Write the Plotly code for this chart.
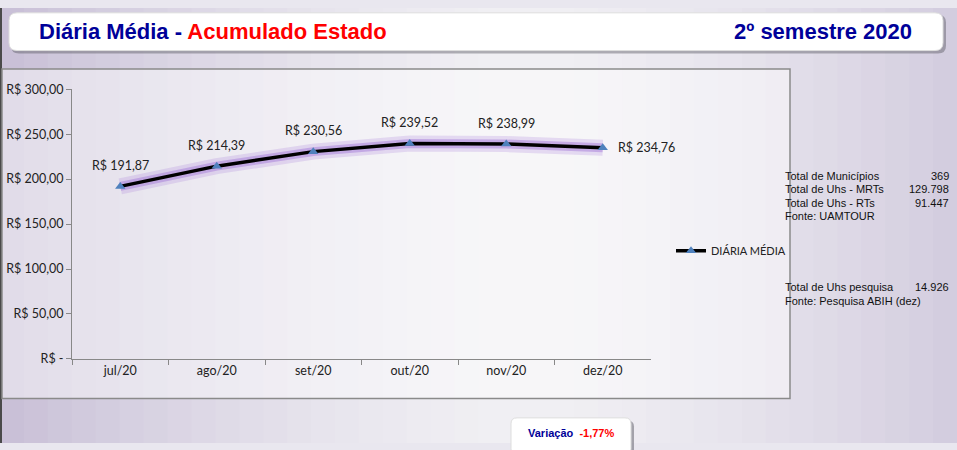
import plotly.graph_objects as go

# ---- data ----
months = ["jul/20", "ago/20", "set/20", "out/20", "nov/20", "dez/20"]
diaria_media = [191.87, 214.39, 230.56, 239.52, 238.99, 234.76]
value_labels = ["R$ 191,87", "R$ 214,39", "R$ 230,56", "R$ 239,52", "R$ 238,99", "R$ 234,76"]
y_tick_values = [0, 50, 100, 150, 200, 250, 300]
y_tick_labels = ["R$ -", "R$ 50,00", "R$ 100,00", "R$ 150,00", "R$ 200,00", "R$ 250,00", "R$ 300,00"]
series_name = "DIÁRIA MÉDIA"
info_top = [("Total de Municípios", "369"), ("Total de Uhs - MRTs", "129.798"),
            ("Total de Uhs - RTs", "91.447"), ("Fonte: UAMTOUR", "")]
info_bottom = [("Total de Uhs pesquisa", "14.926"), ("Fonte: Pesquisa ABIH (dez)", "")]
variacao = "-1,77%"

W, H = 957, 450
def px(x): return x / W
def py(y): return 1 - y / H

LFONT = "Lato, Carlito, sans-serif"

fig = go.Figure()

# glow
fig.add_trace(go.Scatter(x=months, y=diaria_media, mode="lines",
                         line=dict(color="rgba(170,130,220,0.25)", width=16),
                         hoverinfo="skip", showlegend=False))
fig.add_trace(go.Scatter(x=months, y=diaria_media, mode="lines",
                         line=dict(color="rgba(160,115,215,0.45)", width=9),
                         hoverinfo="skip", showlegend=False))
# main series
fig.add_trace(go.Scatter(x=months, y=diaria_media, mode="lines+markers",
                         name=series_name,
                         line=dict(color="black", width=3.5),
                         marker=dict(symbol="triangle-up", size=9, color="#4f81bd"),
                         cliponaxis=False))

shapes = []
# background gradient (horizontal)
n = 40
for i in range(n):
    x0 = i / n
    x1 = (i + 1) / n
    c = (x0 + x1) / 2
    d = abs(c - 0.55) / 0.55
    t = min(1, d) ** 1.5
    r = int(241 + (200 - 241) * t)
    g = int(240 + (192 - 241) * t)
    b = int(244 + (215 - 244) * t)
    shapes.append(dict(type="rect", xref="paper", yref="paper", x0=x0, x1=x1 + 0.002, y0=0, y1=1,
                       fillcolor=f"rgb({r},{g},{b})", line=dict(width=0), layer="below"))
# left dark edge
shapes.append(dict(type="rect", xref="paper", yref="paper", x0=0, x1=px(2), y0=0, y1=1,
                   fillcolor="#4a4a4a", line=dict(width=0), layer="below"))
# chart box
shapes.append(dict(type="rect", xref="paper", yref="paper", x0=px(2), x1=px(790), y0=py(404), y1=py(63),
                   fillcolor="rgba(255,255,255,0.45)", line=dict(color="#8a8a8a", width=1.5), layer="below"))

def rrect(x0, y0, x1, y1, r):
    X0, X1 = px(x0), px(x1)
    Y0, Y1 = py(y1), py(y0)
    rx, ry = r / W, r / H
    return (f"M {X0+rx},{Y0} L {X1-rx},{Y0} Q {X1},{Y0} {X1},{Y0+ry} L {X1},{Y1-ry} "
            f"Q {X1},{Y1} {X1-rx},{Y1} L {X0+rx},{Y1} Q {X0},{Y1} {X0},{Y1-ry} "
            f"L {X0},{Y0+ry} Q {X0},{Y0} {X0+rx},{Y0} Z")

# title box shadow + box
shapes.append(dict(type="path", xref="paper", yref="paper", path=rrect(11, 7, 946, 47, 8),
                   fillcolor="rgba(90,90,100,0.45)", line=dict(width=0), layer="below"))
shapes.append(dict(type="path", xref="paper", yref="paper", path=rrect(9, 5, 943, 44, 8),
                   fillcolor="white", line=dict(color="#dddddd", width=1), layer="below"))
# variacao box
shapes.append(dict(type="path", xref="paper", yref="paper", path=rrect(514, 427, 634, 462, 6),
                   fillcolor="rgba(90,90,100,0.5)", line=dict(width=0), layer="below"))
shapes.append(dict(type="path", xref="paper", yref="paper", path=rrect(511, 424, 631, 462, 6),
                   fillcolor="white", line=dict(color="#dddddd", width=1), layer="below"))

annotations = []
# data labels
for i, (m, v, lab) in enumerate(zip(months, diaria_media, value_labels)):
    if i == len(months) - 1:
        annotations.append(dict(x=m, y=v, xref="x", yref="y", text=lab, showarrow=False,
                                xanchor="left", yanchor="middle", xshift=13,
                                font=dict(family=LFONT, size=12.5, color="#222")))
    else:
        annotations.append(dict(x=m, y=v, xref="x", yref="y", text=lab, showarrow=False,
                                xanchor="center", yanchor="middle", yshift=21,
                                font=dict(family=LFONT, size=12.5, color="#222")))

tfont = "Liberation Sans Narrow, Arial Narrow, Liberation Sans, Arial, sans-serif"
annotations.append(dict(xref="paper", yref="paper", x=px(37), y=py(24), xanchor="left", yanchor="middle",
                        showarrow=False,
                        text="<b><span style='color:#000099'>Diária Média - </span><span style='color:#ff0000'>Acumulado Estado</span></b>",
                        font=dict(family=tfont, size=22)))
annotations.append(dict(xref="paper", yref="paper", x=px(914), y=py(24), xanchor="right", yanchor="middle",
                        showarrow=False, text="<b>2º semestre 2020</b>",
                        font=dict(family=tfont, size=22, color="#000099")))
ifont = dict(family="Liberation Sans, Arial, sans-serif", size=11, color="#111")
for i, (lab, val) in enumerate(info_top):
    y = 174 + i * 13.7
    annotations.append(dict(xref="paper", yref="paper", x=px(783), y=py(y), xanchor="left", yanchor="middle",
                            showarrow=False, text=lab, font=ifont))
    if val:
        annotations.append(dict(xref="paper", yref="paper", x=px(951), y=py(y), xanchor="right", yanchor="middle",
                                showarrow=False, text=val, font=ifont))
for i, (lab, val) in enumerate(info_bottom):
    y = 289 + i * 13.7
    annotations.append(dict(xref="paper", yref="paper", x=px(783), y=py(y), xanchor="left", yanchor="middle",
                            showarrow=False, text=lab, font=ifont))
    if val:
        annotations.append(dict(xref="paper", yref="paper", x=px(951), y=py(y), xanchor="right", yanchor="middle",
                                showarrow=False, text=val, font=ifont))
annotations.append(dict(xref="paper", yref="paper", x=px(571), y=py(440), xanchor="center", yanchor="middle",
                        showarrow=False,
                        text=f"<b><span style='color:#000099'>Variação</span>  <span style='color:#ff0000'>{variacao}</span></b>",
                        font=dict(family="Liberation Sans, Arial, sans-serif", size=11)))

axfont = dict(family=LFONT, size=12.5, color="#222")
fig.update_layout(
    width=W, height=H, margin=dict(l=0, r=0, t=0, b=0),
    paper_bgcolor="#e9e7ef", plot_bgcolor="rgba(0,0,0,0)",
    shapes=shapes, annotations=annotations,
    showlegend=True,
    legend=dict(x=px(671), y=py(251), xanchor="left", yanchor="middle",
                bgcolor="rgba(0,0,0,0)", font=dict(family=LFONT, size=11, color="#222"),
                itemwidth=30, tracegroupgap=0),
    xaxis=dict(domain=[px(72), px(651)], range=[-0.5, 5.5], type="category",
               showline=True, linecolor="#888", linewidth=1, showgrid=False,
               ticks="outside", ticklen=5, tickcolor="#888", tickson="boundaries",
               tickfont=axfont, fixedrange=True),
    yaxis=dict(domain=[py(363), py(84)], range=[0, 300], tickvals=y_tick_values, ticktext=y_tick_labels,
               showline=True, linecolor="#888", linewidth=1, showgrid=False, zeroline=False,
               ticks="outside", ticklen=5, tickcolor="#888", tickfont=axfont, fixedrange=True),
)

fig.write_html("out.html", config={"displayModeBar": False},
               post_script="document.body.style.margin='0';document.body.style.overflow='hidden';")
